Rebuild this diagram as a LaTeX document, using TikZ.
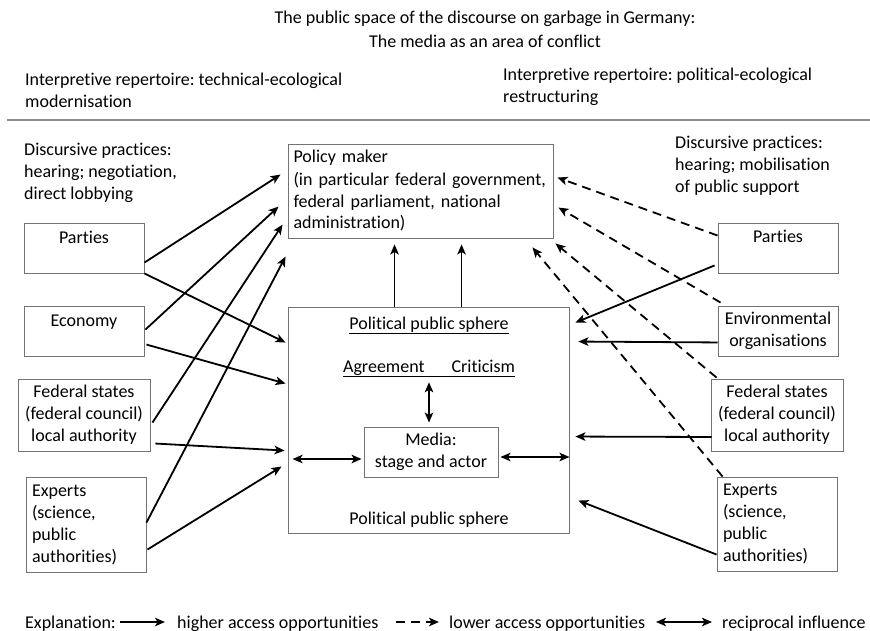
\documentclass[tikz,border=0pt]{standalone}
\usepackage{fontspec}
\setmainfont{Carlito}[Ligatures={NoCommon}]
\frenchspacing
\usetikzlibrary{arrows.meta,calc}
\begin{document}
\begin{tikzpicture}[x=1pt,y=-1pt,
  txt/.style={font=\fontsize{18}{22}\selectfont, inner sep=0pt, text=black},
  box/.style={draw=black!55, line width=0.9pt, font=\fontsize{18}{22}\selectfont, align=center, inner sep=0pt},
  tip/.tip={Stealth[length=10pt,width=8.5pt,inset=2.5pt]},
  arr/.style={line width=1.8pt, -tip},
  darr/.style={line width=1.8pt, tip-tip},
  dasharr/.style={arr, dash pattern=on 9pt off 6pt},
  uline/.style={line width=0.8pt},
]
\useasboundingbox (0,0) rectangle (870,631);

% headings
\node[txt, align=center, anchor=north] (title) at (485,11)
  {The public space of the discourse on garbage in Germany:\\[2pt]The media as an area of conflict};
\node[txt, align=left, anchor=north west] (repL) at (25,73)
  {Interpretive repertoire: technical-ecological\\modernisation};
\node[txt, align=left, anchor=north west] (repR) at (503,68)
  {Interpretive repertoire: political-ecological\\restructuring};
\coordinate (ruleA) at (7,120);
\coordinate (ruleB) at (870,120);
\draw[black!45, line width=1.3pt] (ruleA) -- (ruleB);

\node[txt, align=left, anchor=north west] (discL) at (24,143)
  {Discursive practices:\\hearing; negotiation,\\direct lobbying};
\node[txt, align=left, anchor=north west] (discR) at (675,136)
  {Discursive practices:\\hearing; mobilisation\\of public support};

% left-hand actors
\node[box, minimum width=120pt, minimum height=50pt] (lparties) at (84,248) {};
\node[txt, anchor=base] (lpartiesT) at ($(lparties.north)+(0,21)$) {Parties};
\node[box, minimum width=120pt, minimum height=50pt] (lecon) at (84,331) {};
\node[txt, anchor=base] (leconT) at ($(lecon.north)+(0,21)$) {Economy};
\node[box, minimum width=132pt, minimum height=72pt] (lfed) at (84,415)
  {Federal states\\(federal council)\\local authority};
\node[box, minimum width=120pt, minimum height=95pt, text width=108pt, align=left] (lexp) at (86,524.5)
  {Experts\\(science,\\public\\authorities)};

% centre
\node[box, minimum width=265pt, minimum height=94pt, text width=254pt, align=left] (pm) at (420.5,191)
  {Policy maker\\(in particular federal government,\\federal parliament, national\\administration)};
\node[box, minimum width=281pt, minimum height=226pt] (sphere) at (428.5,420) {};
\node[box, minimum width=134pt, minimum height=50pt] (media) at (431,452) {Media:\\stage and actor};

\node[txt, anchor=base] (pps1) at (429,329) {Political public sphere};
\draw[uline] ([yshift=-1.2pt]pps1.south west) -- ([yshift=-1.2pt]pps1.south east);
\node[txt, anchor=base] (agree) at (429,372) {Agreement\hspace*{27pt}Criticism};
\draw[uline] ([yshift=-1.2pt]agree.south west) -- ([yshift=-1.2pt]agree.south east);
\node[txt, anchor=base] (pps2) at (429,524) {Political public sphere};

% right-hand actors
\node[box, minimum width=120pt, minimum height=50pt] (rparties) at (778,248) {};
\node[txt, anchor=base] (rpartiesT) at ($(rparties.north)+(0,20)$) {Parties};
\node[box, minimum width=120pt, minimum height=50pt] (renv) at (778,331)
  {Environmental\\organisations};
\node[box, minimum width=132pt, minimum height=72pt] (rfed) at (777,415)
  {Federal states\\(federal council)\\local authority};
\node[box, minimum width=120pt, minimum height=94pt, text width=108pt, align=left] (rexp) at (777,524)
  {Experts\\(science,\\public\\authorities)};

% inside the political public sphere
\draw[darr, shorten <=7pt, shorten >=4pt] (agree.south) -- (agree.south |- media.north);
\draw[darr, shorten <=2pt, shorten >=5pt] ([yshift=-7pt]media.west) -- ([yshift=-7pt]media.west -| sphere.west);
\draw[darr, shorten <=2pt] ([yshift=-5pt]media.east) -- ([yshift=-5pt]media.east -| sphere.east);

% sphere up to policy maker
\draw[arr, shorten >=6pt] ([xshift=107pt]sphere.north west) -- ([xshift=107pt]sphere.north west |- pm.south);
\draw[arr, shorten >=6pt] ([xshift=174pt]sphere.north west) -- ([xshift=174pt]sphere.north west |- pm.south);

% left actors: higher access
\draw[arr] ($(lparties.north east)+(0,40)$) -- ($(pm.north west)+(-7,31)$);
\draw[arr] (lparties.south east) -- ($(sphere.north west)+(-2,36)$);
\draw[arr] ($(lecon.north east)+(1,24)$) -- ($(pm.north west)+(-9,63)$);
\draw[arr] ($(lecon.north east)+(2,39)$) -- ($(sphere.north west)+(-2,77)$);
\draw[arr] ($(lfed.north east)+(2,44)$) -- ($(pm.north west)+(-5,81)$);
\draw[arr] ($(lfed.north east)+(5,65)$) -- ($(sphere.north west)+(-3,144)$);
\draw[arr] ($(lexp.north east)+(0,46)$) -- ($(pm.north west)+(-2,113)$);
\draw[arr] ($(lexp.north east)+(1,73)$) -- ($(sphere.north west)+(-6,160)$);

% right actors: lower access to the policy maker
\draw[dasharr] ($(rparties.north west)+(0,13)$) -- ($(pm.north east)+(4,34)$);
\draw[dasharr] ($(renv.north west)+(3,-3)$) -- ($(pm.north east)+(5,64)$);
\draw[dasharr] ($(rfed.north west)+(6,-1)$) -- ($(pm.south east)+(2,5)$);
\draw[dasharr] ($(rexp.north west)+(6,0)$) -- ($(pm.south east)+(-21,9)$);

% right actors: higher access to the sphere
\draw[arr] ($(rparties.south west)+(-3,-8)$) -- ($(sphere.north east)+(6,16)$);
\draw[arr] ($(renv.south west)+(0,-14)$) -- ($(sphere.north east)+(9,35)$);
\draw[arr] ($(rfed.west)+(1,22)$) -- ($(sphere.north east)+(6,130)$);
\draw[arr] ($(rexp.north west)+(0,78)$) -- ($(sphere.north east)+(9,194)$);

% key
\node[txt, anchor=base west] (expl) at (25,628) {Explanation:};
\node[txt, anchor=base west] (hi) at (177,628) {higher access opportunities};
\node[txt, anchor=base west] (lo) at (449,628) {lower access opportunities};
\node[txt, anchor=base west] (rec) at (722,628) {reciprocal influence};
\coordinate (k1a) at ($(hi.base west)+(-57,-6)$);
\coordinate (k1b) at ($(hi.base west)+(-12,-6)$);
\coordinate (k2a) at ($(lo.base west)+(-53,-6)$);
\coordinate (k2b) at ($(lo.base west)+(-10,-6)$);
\coordinate (k3a) at ($(rec.base west)+(-66,-6)$);
\coordinate (k3b) at ($(rec.base west)+(-10,-6)$);
\draw[arr] (k1a) -- (k1b);
\draw[dasharr] (k2a) -- (k2b);
\draw[darr] (k3a) -- (k3b);
\end{tikzpicture}
\end{document}
